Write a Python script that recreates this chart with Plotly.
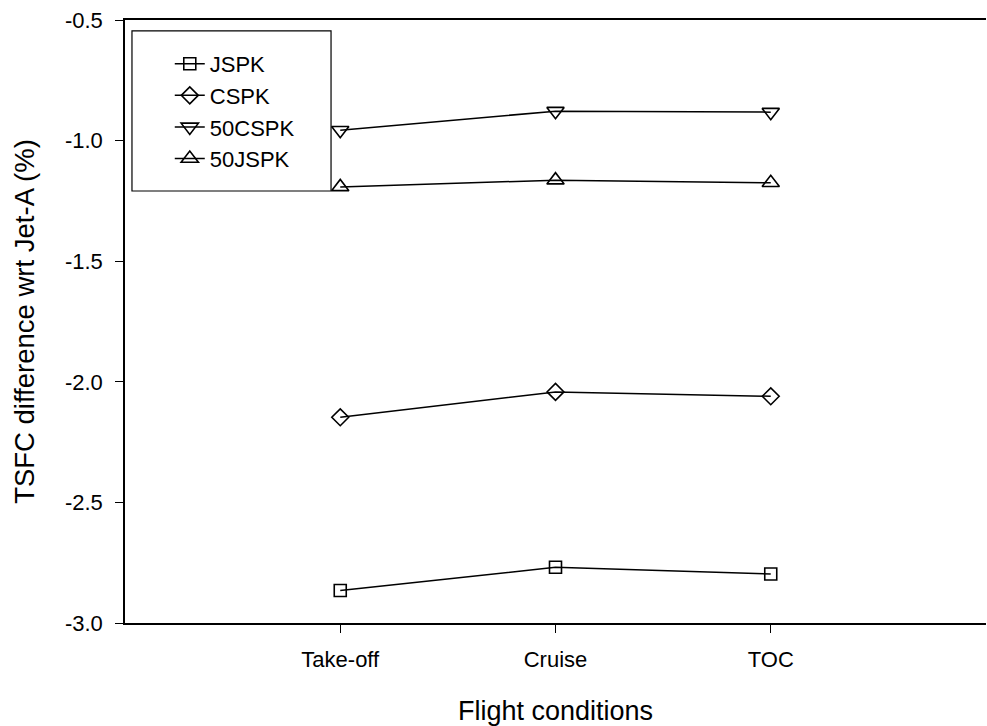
import plotly.graph_objects as go

conditions = ["Take-off", "Cruise", "TOC"]
x_pos = [0, 1, 2]

series_names = ["JSPK", "CSPK", "50CSPK", "50JSPK"]
jspk = [-2.865, -2.769, -2.797]
cspk = [-2.147, -2.042, -2.060]
c50spk = [-0.957, -0.878, -0.882]
j50spk = [-1.192, -1.164, -1.175]

y_ticks = [-3.0, -2.5, -2.0, -1.5, -1.0, -0.5]

symbols = ["square-open", "diamond-open", "triangle-down-open", "triangle-up-open"]
sizes = [12, 13, 15, 15]
values = [jspk, cspk, c50spk, j50spk]

fig = go.Figure()
for name, vals, sym, sz in zip(series_names, values, symbols, sizes):
    fig.add_trace(go.Scatter(
        x=x_pos, y=vals, name=name, mode="lines+markers",
        line=dict(color="black", width=1.5),
        marker=dict(symbol=sym, size=sz, color="black", line=dict(width=1.6, color="black")),
    ))

font_family = "Liberation Sans, Arial, sans-serif"
fig.update_layout(
    width=987, height=726,
    margin=dict(l=125, r=1, t=20, b=103),
    paper_bgcolor="white", plot_bgcolor="white",
    font=dict(family=font_family, color="black", size=22),
    showlegend=True,
    legend=dict(
        x=0.052, y=0.962, xanchor="left", yanchor="top",
        borderwidth=0, bgcolor="rgba(0,0,0,0)",
        font=dict(size=22, family=font_family, color="black"),
    ),
    shapes=[dict(
        type="rect", xref="paper", yref="paper",
        x0=0.0081, x1=0.2393, y0=0.7164, y1=0.9818,
        line=dict(color="black", width=1.2), fillcolor="white", layer="above",
    )],
)
fig.update_xaxes(
    range=[-1, 3], tickmode="array", tickvals=x_pos, ticktext=conditions,
    showline=True, linecolor="black", linewidth=1.5, mirror=True,
    ticks="outside", ticklen=8, tickcolor="black", tickwidth=1.2,
    showgrid=False, zeroline=False,
    tickfont=dict(size=22), ticklabelstandoff=8,
    title=dict(text="Flight conditions", font=dict(size=27), standoff=30),
)
fig.update_yaxes(
    range=[-3.0, -0.5], tickmode="array", tickvals=y_ticks,
    ticktext=[f"{v:.1f}" for v in y_ticks],
    showline=True, linecolor="black", linewidth=1.5,
    ticks="outside", ticklen=8, tickcolor="black", tickwidth=1.2,
    showgrid=False, zeroline=False,
    tickfont=dict(size=22), ticklabelstandoff=8,
    title=dict(text="TSFC difference wrt Jet-A (%)", font=dict(size=27.5), standoff=22),
)

fig.write_html("out.html")
